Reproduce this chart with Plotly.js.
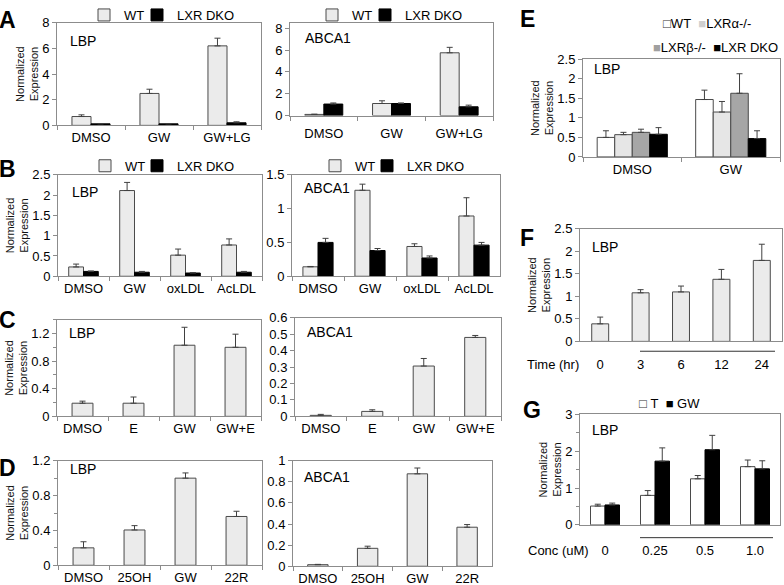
<!DOCTYPE html>
<html>
<head>
<meta charset="utf-8">
<script src="https://cdn.plot.ly/plotly-3.0.1.min.js"></script>
<style>html,body{margin:0;padding:0;background:#fff}#chart{width:784px;height:585px}</style>
</head>
<body>
<div id="chart"></div>
<script>
// ---- data ----
const aCats = ['DMSO', 'GW', 'GW+LG'];
const aLbpWt = [0.69, 2.49, 6.2];
const aLbpWtErr = [0.13, 0.33, 0.6];
const aLbpKo = [0.12, 0.12, 0.2];
const aLbpKoErr = [0.02, 0.02, 0.08];
const aAbcaWt = [0.1, 1.1, 5.75];
const aAbcaWtErr = [0.02, 0.25, 0.5];
const aAbcaKo = [1.05, 1.1, 0.8];
const aAbcaKoErr = [0.1, 0.05, 0.15];

const bCats = ['DMSO', 'GW', 'oxLDL', 'AcLDL'];
const bLbpWt = [0.23, 2.11, 0.52, 0.77];
const bLbpWtErr = [0.07, 0.2, 0.15, 0.15];
const bLbpKo = [0.12, 0.1, 0.08, 0.1];
const bLbpKoErr = [0.01, 0.02, 0.01, 0.02];
const bAbcaWt = [0.14, 1.27, 0.44, 0.89];
const bAbcaWtErr = [0.005, 0.09, 0.04, 0.27];
const bAbcaKo = [0.5, 0.38, 0.27, 0.46];
const bAbcaKoErr = [0.06, 0.03, 0.03, 0.04];

const cCats = ['DMSO', 'E', 'GW', 'GW+E'];
const cLbp = [0.19, 0.19, 1.03, 1.0];
const cLbpErr = [0.03, 0.09, 0.26, 0.19];
const cAbca = [0.006, 0.03, 0.306, 0.48];
const cAbcaErr = [0.006, 0.01, 0.046, 0.012];

const dCats = ['DMSO', '25OH', 'GW', '22R'];
const dLbp = [0.2, 0.405, 1.0, 0.56];
const dLbpErr = [0.07, 0.05, 0.06, 0.06];
const dAbca = [0.015, 0.17, 0.876, 0.37];
const dAbcaErr = [0.003, 0.02, 0.055, 0.025];

const eCats = ['DMSO', 'GW'];
const eNames = ['WT', 'LXRα-/-', 'LXRβ-/-', 'LXR DKO'];
const eWt = [0.5, 1.47];
const eWtErr = [0.17, 0.24];
const eAlpha = [0.57, 1.15];
const eAlphaErr = [0.06, 0.27];
const eBeta = [0.63, 1.63];
const eBetaErr = [0.08, 0.5];
const eDko = [0.58, 0.47];
const eDkoErr = [0.17, 0.2];

const fTimes = ['0', '3', '6', '12', '24'];
const fLbp = [0.39, 1.08, 1.1, 1.38, 1.8];
const fLbpErr = [0.15, 0.07, 0.13, 0.22, 0.36];

const gConc = ['0', '0.25', '0.5', '1.0'];
const gNames = ['T', 'GW'];
const gT = [0.51, 0.8, 1.25, 1.58];
const gTErr = [0.05, 0.13, 0.09, 0.18];
const gGw = [0.54, 1.73, 2.04, 1.52];
const gGwErr = [0.05, 0.36, 0.39, 0.22];

// ---- drawing ----
const W = 784, H = 585;
const FONT = 'Liberation Sans, Arial, sans-serif';
const WT_FILL = '#ebebeb';
const EDGE = '#4a4a4a';
const AXIS = '#8c8c8c';
const YTITLE = 'Normalized<br>Expression';

function px(x) { return x / W; }
function py(y) { return 1 - y / H; }
function sfx(n) { return n === 1 ? '' : String(n); }

const traces = [];
const layout = {
  width: W, height: H,
  margin: {l: 0, r: 0, t: 0, b: 0},
  paper_bgcolor: '#fff', plot_bgcolor: '#fff',
  barmode: 'overlay',
  font: {family: FONT, size: 13, color: '#000'},
  annotations: [], shapes: []
};

function addAxes(n, box, yopts, xopts) {
  const s = sfx(n);
  layout['xaxis' + s] = Object.assign({
    domain: [px(box[0]), px(box[1])], anchor: 'y' + s, type: 'category',
    showline: true, mirror: true, linecolor: AXIS, ticks: 'outside', tickson: 'boundaries',
    ticklen: 4, tickcolor: AXIS, showgrid: false, zeroline: false, fixedrange: true,
    tickfont: {size: 13}
  }, xopts || {});
  layout['yaxis' + s] = Object.assign({
    domain: [py(box[3]), py(box[2])], anchor: 'x' + s,
    showline: true, mirror: true, linecolor: AXIS, ticks: 'outside', ticklen: 4,
    tickcolor: AXIS, showgrid: false, zeroline: false, fixedrange: true,
    tickfont: {size: 13}
  }, yopts || {});
}

function addBar(n, x, y, err, fill, name, offset, width, legendId) {
  const s = sfx(n);
  traces.push({
    type: 'bar', x: x, y: y, xaxis: 'x' + s, yaxis: 'y' + s,
    name: name, offset: offset, width: width,
    marker: {color: fill, line: {color: fill === '#000' ? '#000' : EDGE, width: 1}},
    error_y: {type: 'data', symmetric: false, array: err, arrayminus: err.map(() => 0),
              color: '#404040', thickness: 1, width: 3},
    showlegend: !!legendId, legend: legendId || 'legend', hoverinfo: 'skip'
  });
}

function addLegend(id, x, y) {
  layout[id] = {x: px(x), y: py(y), xanchor: 'left', yanchor: 'middle', orientation: 'h',
                bgcolor: 'rgba(0,0,0,0)', font: {size: 13}, itemclick: false, itemdoubleclick: false};
}

function note(text, x, y, size, opts) {
  layout.annotations.push(Object.assign({
    text: text, x: px(x), y: py(y), xref: 'paper', yref: 'paper',
    xanchor: 'left', yanchor: 'middle', showarrow: false, font: {size: size}
  }, opts || {}));
}

const ytitle = {text: YTITLE, font: {size: 11, color: '#111'}, standoff: 1};

// A
addAxes(1, [57, 261, 15, 119], {range: [0, 8], dtick: 2, title: ytitle});
addAxes(2, [290, 493, 15, 109], {range: [0, 8.5], dtick: 2}, {ticklabelstandoff: 6});
addBar(1, aCats, aLbpWt, aLbpWtErr, WT_FILL, 'WT', -0.28, 0.28, 'legend');
addBar(1, aCats, aLbpKo, aLbpKoErr, '#000', 'LXR DKO', 0, 0.28, 'legend2');
addBar(2, aCats, aAbcaWt, aAbcaWtErr, WT_FILL, 'WT', -0.28, 0.28, 'legend3');
addBar(2, aCats, aAbcaKo, aAbcaKoErr, '#000', 'LXR DKO', 0, 0.28, 'legend4');
addLegend('legend', 84, 7); addLegend('legend2', 137, 7);
addLegend('legend3', 312, 7); addLegend('legend4', 365, 7);

// B
addAxes(3, [58, 262, 169, 272], {range: [0, 2.5], dtick: 0.5, title: ytitle});
addAxes(4, [292, 500, 169, 272], {range: [0, 1.5], dtick: 0.5});
addBar(3, bCats, bLbpWt, bLbpWtErr, WT_FILL, 'WT', -0.29, 0.29, 'legend5');
addBar(3, bCats, bLbpKo, bLbpKoErr, '#000', 'LXR DKO', 0, 0.29, 'legend6');
addBar(4, bCats, bAbcaWt, bAbcaWtErr, WT_FILL, 'WT', -0.29, 0.29, 'legend7');
addBar(4, bCats, bAbcaKo, bAbcaKoErr, '#000', 'LXR DKO', 0, 0.29, 'legend8');
addLegend('legend5', 85, 160); addLegend('legend6', 137, 160);
addLegend('legend7', 315, 160); addLegend('legend8', 367, 160);

// C
const minor02 = {dtick: 0.2, ticks: 'outside', ticklen: 3, tickcolor: AXIS};
addAxes(5, [57, 261, 316, 414], {range: [0, 1.4], dtick: 0.4, minor: minor02, title: ytitle});
addAxes(6, [295, 501, 314, 414], {range: [0, 0.6], dtick: 0.1});
addBar(5, cCats, cLbp, cLbpErr, WT_FILL, 'LBP', -0.205, 0.41);
addBar(6, cCats, cAbca, cAbcaErr, WT_FILL, 'ABCA1', -0.205, 0.41);

// D
addAxes(7, [58, 262, 459, 565], {range: [0, 1.2], dtick: 0.4, minor: minor02, title: ytitle});
addAxes(8, [293, 492, 459, 566], {range: [0, 1], dtick: 0.2});
addBar(7, dCats, dLbp, dLbpErr, WT_FILL, 'LBP', -0.205, 0.41);
addBar(8, dCats, dAbca, dAbcaErr, WT_FILL, 'ABCA1', -0.205, 0.41);

// E
addAxes(9, [583, 780, 52, 151], {range: [0, 2.5], dtick: 0.5, title: ytitle});
const ew = 0.178;
const eFills = ['#fff', '#e6e6e6', '#a6a6a6', '#000'];
[eWt, eAlpha, eBeta, eDko].forEach((vals, i) => {
  const errs = [eWtErr, eAlphaErr, eBetaErr, eDkoErr][i];
  addBar(9, eCats, vals, errs, eFills[i], eNames[i], -2 * ew + i * ew, ew);
});
function swatch(color, glyph) { return '<span style="color:' + color + '">' + glyph + '</span>'; }
note(swatch('#333', '□') + eNames[0] + '\u00a0\u00a0' + swatch('#cfcfcf', '■') + eNames[1], 661, 16, 13);
note(swatch('#a0a0a0', '■') + eNames[2] + '\u00a0\u00a0' + swatch('#000', '■') + eNames[3], 651, 40, 13);

// F
addAxes(10, [580, 782, 224, 338], {range: [0, 2.5], dtick: 0.5, title: ytitle},
        {ticks: '', ticklabelstandoff: 11});
addBar(10, fTimes, fLbp, fLbpErr, WT_FILL, 'LBP', -0.21, 0.42);
note('Time (hr)', 581, 361, 13, {xanchor: 'right'});
layout.shapes.push({type: 'line', xref: 'paper', yref: 'paper', x0: px(640), x1: px(775),
                    y0: py(348), y1: py(348), line: {color: '#333', width: 1}});

// G
addAxes(11, [580, 780, 412, 524], {range: [0, 3], dtick: 1,
        minor: {dtick: 0.5, ticks: 'outside', ticklen: 3, tickcolor: AXIS}, title: ytitle},
        {ticks: '', ticklabelstandoff: 14});
addBar(11, gConc, gT, gTErr, '#fff', gNames[0], -0.29, 0.29);
addBar(11, gConc, gGw, gGwErr, '#000', gNames[1], 0, 0.29);
note(swatch('#333', '□') + '\u00a0' + gNames[0] + '\u00a0\u00a0' + swatch('#000', '■') + '\u00a0' + gNames[1], 637, 401, 13);
note('Conc (uM)', 591, 550, 13, {xanchor: 'right'});
layout.shapes.push({type: 'line', xref: 'paper', yref: 'paper', x0: px(640), x1: px(773),
                    y0: py(537), y1: py(537), line: {color: '#333', width: 1}});

// panel letters and gene labels
[['A', 8, 12], ['B', 8, 163], ['C', 8, 316], ['D', 8, 466],
 ['E', 527, 11], ['F', 527, 233], ['G', 532, 408]].forEach(l => {
  note('<b>' + l[0] + '</b>', l[1], l[2], 23, {xanchor: 'center'});
});
[['LBP', 68, 33], ['ABCA1', 303, 30], ['LBP', 70, 187], ['ABCA1', 302, 183],
 ['LBP', 67, 330], ['ABCA1', 305, 328], ['LBP', 68, 467], ['ABCA1', 302, 475],
 ['LBP', 592, 62], ['LBP', 590, 242], ['LBP', 590, 428]].forEach(l => {
  note(l[0], l[1], l[2], 14);
});

Plotly.newPlot('chart', traces, layout, {staticPlot: true, displayModeBar: false});
</script>
</body>
</html>
